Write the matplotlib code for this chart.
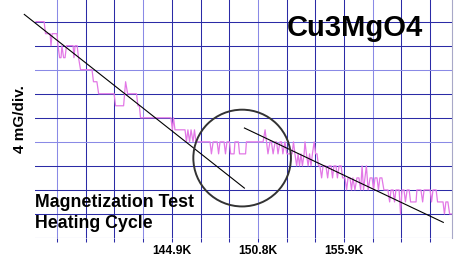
import matplotlib
matplotlib.use("Agg")
import matplotlib.pyplot as plt
from matplotlib.patches import Ellipse

plt.rcParams['font.family'] = ['Liberation Sans', 'DejaVu Sans']

# x in grid divisions, y in mG (4 mG per division)
trace_x = [-0.73, -0.45, -0.40, -0.24, -0.21, -0.17, 0.0, 0.035, 0.09, 0.14, 0.17, 0.23, 0.28, 0.33,
           0.56, 0.59, 0.63, 0.70, 0.75, 0.82, 1.22, 1.27, 1.39, 1.45, 1.99, 2.04, 2.32, 2.39,
           2.46, 2.77, 2.82, 2.87, 2.91, 3.97, 4.02, 4.06, 4.11, 4.46, 4.51, 4.56, 4.62, 4.67,
           4.74, 4.79, 4.84, 5.33, 5.38, 5.44, 5.58, 5.63, 5.68, 5.82, 5.87, 5.92, 6.01, 6.05,
           6.17, 6.20, 6.32, 6.36, 6.57, 6.60, 7.18, 7.25, 7.30, 7.35, 7.42, 7.47, 7.53, 7.60,
           7.65, 7.70, 7.77, 7.82, 7.87, 7.94, 8.01, 8.19, 8.24, 8.29, 8.35, 8.40, 8.45, 8.50,
           8.55, 8.61, 8.64, 8.69, 8.75, 8.80, 8.85, 8.90, 8.96, 9.01, 9.06, 9.11, 9.16, 9.22,
           9.27, 9.37, 9.43, 9.48, 9.55, 9.60, 9.65, 9.72, 9.77, 9.83, 9.90, 9.95, 10.0, 10.035,
           10.09, 10.14, 10.21, 10.26, 10.31, 10.38, 10.45, 10.52, 10.58, 10.63, 10.68, 10.73,
           10.78, 10.84, 10.91, 10.98, 11.03, 11.08, 11.15, 11.20, 11.25, 11.32, 11.39, 11.53,
           11.59, 11.64, 11.71, 11.76, 11.81, 11.92, 11.97, 12.02, 12.09, 12.14, 12.20, 12.27,
           12.32, 12.51, 12.54, 12.68, 12.74, 12.79, 13.00, 13.05, 13.10, 13.21, 13.26, 13.45,
           13.50, 13.55, 13.62, 13.68, 13.77]
trace_y = [36, 36, 34, 34, 32, 34, 34, 32, 30, 30, 32, 30, 30, 32,
           32, 30, 32, 32, 30, 28, 28, 26, 26, 24, 24, 22, 22, 26,
           24, 24, 22, 22, 20, 20, 18, 20, 18, 18, 16, 18, 16, 18,
           16, 18, 16, 16, 14, 16, 16, 14, 16, 16, 14, 16, 16, 14,
           14, 16, 16, 14, 14, 16, 16, 18, 16, 14, 16, 16, 14, 16,
           16, 14, 16, 16, 14, 16, 14, 14, 16, 14, 12, 14, 12, 14,
           12, 14, 16, 14, 12, 14, 12, 14, 16, 14, 14, 12, 12, 10,
           12, 12, 10, 12, 12, 10, 12, 12, 10, 12, 12, 10, 10, 10,
           8, 10, 10, 8, 10, 8, 10, 10, 8, 12, 8, 10,
           12, 8, 10, 10, 8, 10, 10, 8, 10, 10, 8, 8,
           6, 8, 8, 6, 8, 8, 4, 8, 8, 6, 8, 8,
           6, 6, 8, 8, 6, 8, 8, 6, 8, 8, 6, 6,
           4, 6, 6, 4, 4]

# straight-line fits below and above the transition
fit1_x = [-1.14, 6.53]
fit1_y = [37.2, 8.3]
fit2_x = [6.53, 13.46]
fit2_y = [18.3, 2.6]

# circled transition region
circle_center = (6.45, 13.3)
circle_w, circle_h = 3.40, 16.1

grid_x = list(range(14))
grid_y = list(range(0, 37, 4))
tick_labels = {4: '144.9K', 7: '150.8K', 10: '155.9K'}

fig = plt.figure(figsize=(4.59, 2.57), dpi=100)
ax = fig.add_axes([35 / 459, 19 / 257, 417 / 459, 238 / 257])
ax.set_xlim(-0.767, 13.763)
ax.set_ylim(0, 39.6)

dark = '#2b2ba6'
light = '#8a8ae6'
for gx in grid_x:
    ax.axvline(gx, color=light if gx in (0, 3, 7, 11) else dark, lw=0.75, zorder=1)
for gy in grid_y:
    ax.axhline(gy, color=light if gy in (16, 28) else dark, lw=0.75, zorder=1)

ax.plot(trace_x, trace_y, color='#e278e6', lw=0.9, zorder=2)
ax.plot(fit1_x, fit1_y, color='black', lw=0.8, zorder=3, clip_on=False)
ax.plot(fit2_x, fit2_y, color='black', lw=0.8, zorder=3)
ax.add_patch(Ellipse(circle_center, circle_w, circle_h, fill=False,
                     edgecolor='#333333', lw=1.4, zorder=4))

for s in ('top', 'left', 'bottom'):
    ax.spines[s].set_visible(False)
ax.spines['right'].set_color('#a8a8c8')
ax.spines['right'].set_linewidth(0.8)

ax.set_yticks([])
ax.set_xticks(grid_x)
ax.set_xticklabels([tick_labels.get(g, '') for g in grid_x], fontsize=8.7, fontweight='bold')
ax.tick_params(axis='x', length=3, width=0.75, color=dark, pad=2)

fig.text(287 / 459, 1 - 35.7 / 257, 'Cu3MgO4', fontsize=21, fontweight='bold', va='baseline')
fig.text(35 / 459, 1 - 207.3 / 257, 'Magnetization Test', fontsize=12.8, fontweight='bold', va='baseline')
fig.text(35 / 459, 1 - 228 / 257, 'Heating Cycle', fontsize=12.8, fontweight='bold', va='baseline')
fig.text(20 / 459, 1 - 119 / 257, '4 mG/div.', fontsize=11, fontweight='bold', rotation=90,
         ha='center', va='center')

fig.savefig('out.png', dpi=100)
